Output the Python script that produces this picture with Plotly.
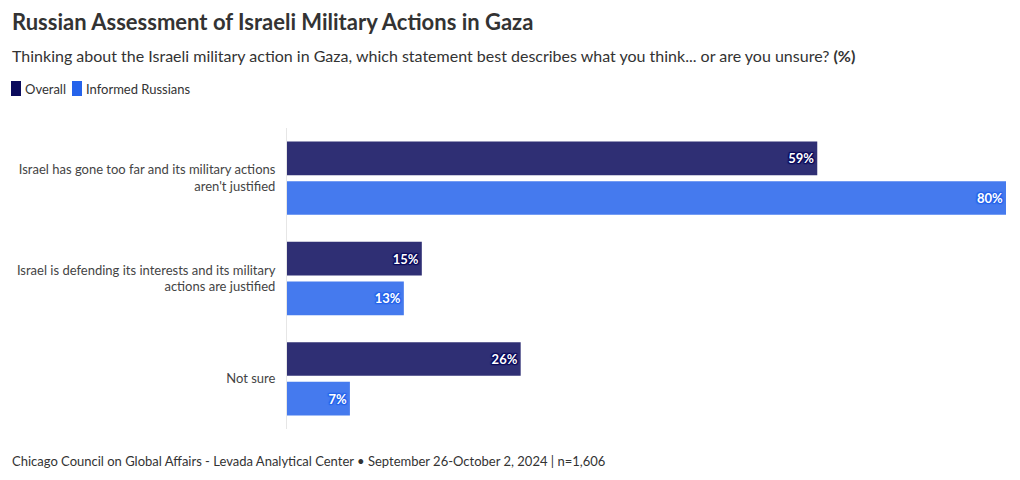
import plotly.graph_objects as go

categories = [
    "Israel has gone too far and its military actions<br>aren't justified",
    "Israel is defending its interests and its military<br>actions are justified",
    "Not sure",
]
overall = [59, 15, 26]
informed = [80, 13, 7]
series_names = ["Overall", "Informed Russians"]
series_colors = ["#0b0b5c", "#2563eb"]

FONT = "Source Sans Pro, Lato, sans-serif"

# plot area geometry (pixels)
L, R, T, B = 287, 1006, 128, 429
W, H = R - L, B - T


def px(x):
    return (x - L) / W


def py(y):
    return (B - y) / H


def stroke(c):
    return ", ".join(f"{dx}px {dy}px 1px {c}" for dx, dy in
                     [(-1, -1), (1, -1), (-1, 1), (1, 1), (0, 1), (0, -1), (1, 0), (-1, 0)])


fig = go.Figure()
for vals, name, col in zip([overall, informed], series_names, series_colors):
    fig.add_trace(go.Bar(
        y=categories, x=vals, name=name, orientation="h",
        marker=dict(color=col, opacity=0.85, line=dict(width=0)),
        text=[f"{v}%" for v in vals], textposition="inside", insidetextanchor="end",
        textfont=dict(family=FONT, size=13, color="white", weight="bold",
                      shadow=stroke(col)),
        hoverinfo="skip",
    ))

shapes = []
annotations = [
    dict(text="<b>Russian Assessment of Israeli Military Actions in Gaza</b>",
         xref="paper", yref="paper", x=px(10), y=py(22),
         xanchor="left", yanchor="middle", showarrow=False,
         font=dict(size=22, color="#333333")),
    dict(text="Thinking about the Israeli military action in Gaza, which statement best describes what you think... or are you unsure? <b>(%)</b>",
         xref="paper", yref="paper", x=px(10), y=py(55),
         xanchor="left", yanchor="middle", showarrow=False,
         font=dict(size=16, color="#333333")),
    dict(text="Chicago Council on Global Affairs - Levada Analytical Center • September 26-October 2, 2024 | n=1,606",
         xref="paper", yref="paper", x=px(10), y=py(461),
         xanchor="left", yanchor="middle", showarrow=False,
         font=dict(size=13, color="#333333")),
]

# legend (swatch + label)
legend_x = [11, 72]
for x0, name, col in zip(legend_x, series_names, series_colors):
    shapes.append(dict(type="rect", xref="paper", yref="paper",
                       x0=px(x0), x1=px(x0 + 10), y0=py(96), y1=py(81),
                       fillcolor=col, line=dict(width=0), layer="above"))
    annotations.append(dict(text=name, xref="paper", yref="paper",
                            x=px(x0 + 12), y=py(88.5), xanchor="left", yanchor="middle",
                            showarrow=False, font=dict(size=13, color="#333333")))

fig.update_layout(
    width=1020, height=480,
    margin=dict(l=L, r=1020 - R, t=T, b=480 - B),
    barmode="group", bargap=0.21, bargroupgap=0.15,
    plot_bgcolor="white", paper_bgcolor="white",
    font=dict(family=FONT, color="#444444"),
    showlegend=False,
    xaxis=dict(range=[0, 80], visible=False, fixedrange=True),
    yaxis=dict(autorange="reversed", showline=True, linecolor="#e6e6e6", linewidth=1,
               showgrid=False, zeroline=False, ticks="", ticklabelstandoff=8,
               tickfont=dict(size=13, color="#444444"), fixedrange=True),
    shapes=shapes,
    annotations=annotations,
)

fig.write_html("out.html")
